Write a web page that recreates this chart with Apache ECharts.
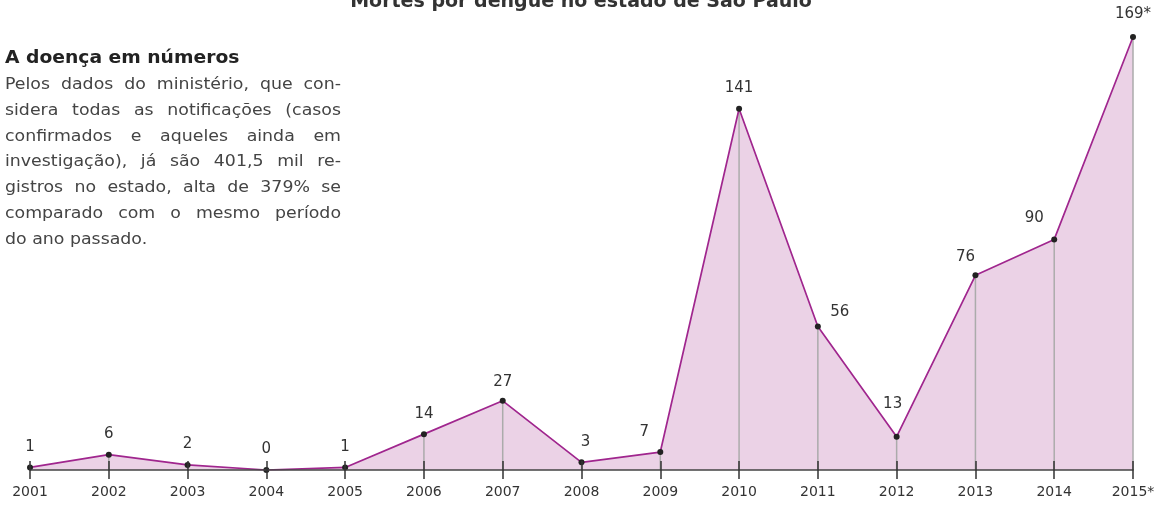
<!DOCTYPE html>
<html><head><meta charset="utf-8">
<script src="https://cdn.jsdelivr.net/npm/echarts@6/dist/echarts.min.js"></script>
<style>html,body{margin:0;padding:0;background:#fff}#c{width:1162px;height:509px}</style>
</head><body><div id="c"></div>
<script>
const years = ['2001','2002','2003','2004','2005','2006','2007','2008','2009','2010','2011','2012','2013','2014','2015*'];
const deaths = [1,6,2,0,1,14,27,3,7,141,56,13,76,90,169];
const pointLabels = ['1','6','2','0','1','14','27','3','7','141','56','13','76','90','169*'];
const chartTitle = 'Mortes por dengue no estado de São Paulo';
const boxTitle = 'A doença em números';
const boxLines = [
  'Pelos dados do ministério, que con-',
  'sidera todas as notificações (casos',
  'confirmados e aqueles ainda em',
  'investigação), já são 401,5 mil re-',
  'gistros no estado, alta de 379% se',
  'comparado com o mesmo período',
  'do ano passado.'
];

// label offsets per point index (style only)
const labelOffsets = {7:[4,0],8:[-16,1],10:[22,6],11:[-4,-12],12:[-10,2],13:[-20,-1],14:[0,-2],6:[0,2]};

const FONT = '"DejaVu Sans", "Noto Sans", sans-serif';
const chart = echarts.init(document.getElementById('c'));

const lineData = deaths.map((v,i)=>{
  const off = labelOffsets[i] || [0,0];
  return {value:v, label:{offset:off}};
});

// justified, slightly stretched paragraph
const PSIZE = 15.5, SX = 1.12;
const PFONT = PSIZE + 'px ' + FONT;
const ctx = document.createElement('canvas').getContext('2d');
ctx.font = PFONT;
const boxX = 5, boxW = 336;
const graphics = [{
  type:'text', x:boxX, y:49, scaleX:1.07,
  style:{text:boxTitle, font:'bold 17.5px '+FONT, fill:'#222', verticalAlign:'top'}
}];
boxLines.forEach((t,i)=>{
  const y = 77 + i*25.8;
  const words = t.split(' ');
  const last = i === boxLines.length-1;
  if (last || words.length < 2) {
    graphics.push({type:'text', x:boxX, y:y, scaleX:SX, style:{text:t, font:PFONT, fill:'#444', verticalAlign:'top'}});
    return;
  }
  const widths = words.map(w=>ctx.measureText(w).width*SX);
  const total = widths.reduce((a,b)=>a+b,0);
  const gap = (boxW - total)/(words.length-1);
  let x = boxX;
  words.forEach((w,j)=>{
    graphics.push({type:'text', x:x, y:y, scaleX:SX, style:{text:w, font:PFONT, fill:'#444', verticalAlign:'top'}});
    x += widths[j] + gap;
  });
});

chart.setOption({
  animation:false,
  title:{text:chartTitle, left:'center', top:-12,
    textStyle:{fontFamily:FONT, fontSize:19, fontWeight:'bold', color:'#333'}},
  grid:{left:30, right:29, top:37, bottom:39},
  xAxis:[{
    type:'category', data:years, boundaryGap:false, z:10,
    axisLine:{lineStyle:{color:'#444', width:1.5}},
    axisTick:{show:true, length:9, lineStyle:{color:'#333', width:1.5}},
    axisLabel:{fontFamily:FONT, fontSize:14, color:'#333', margin:15},
    splitLine:{show:false}
  },{
    type:'category', data:years, boundaryGap:false, position:'bottom', z:10,
    axisLine:{show:false},
    axisTick:{show:true, inside:true, length:9, lineStyle:{color:'#333', width:1.5}},
    axisLabel:{show:false}
  }],
  yAxis:{type:'value', min:0, max:169, show:false, splitLine:{show:false}},
  graphic:graphics,
  series:[{
    type:'line', data:deaths, z:1, symbol:'none', silent:true,
    lineStyle:{width:0},
    areaStyle:{color:'#ebd2e6', opacity:1, origin:'start'}
  },{
    type:'bar', data:deaths, barWidth:1.5, z:2,
    itemStyle:{color:'#ababab'}, silent:true
  },{
    type:'line', data:lineData, z:3,
    symbol:'circle', symbolSize:6,
    itemStyle:{color:'#222'},
    lineStyle:{color:'#a0268e', width:1.7},
    label:{show:true, position:'top', distance:10,
      fontFamily:FONT, fontSize:15, color:'#333',
      formatter:p=>pointLabels[p.dataIndex]}
  }]
});
</script></body></html>
